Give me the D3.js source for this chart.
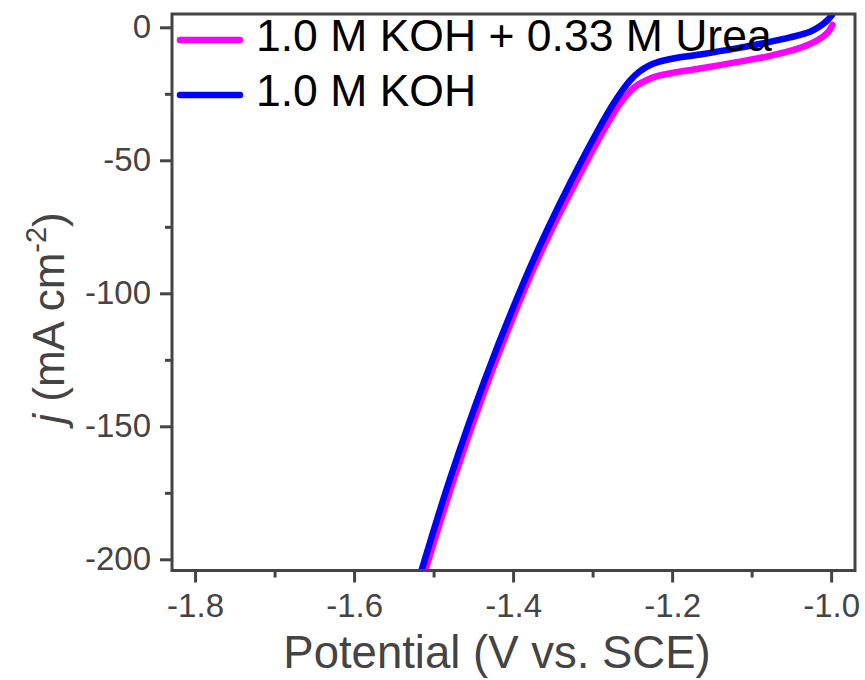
<!DOCTYPE html>
<html>
<head>
<meta charset="utf-8">
<script src="https://cdn.jsdelivr.net/npm/d3@7"></script>
<style>
  html, body { margin: 0; padding: 0; background: #fff; }
  svg { display: block; font-family: "Liberation Sans", Arial, sans-serif; }
</style>
</head>
<body>
<svg id="chart" width="865" height="680"></svg>
<script>
// Linear sweep voltammetry, potential (V vs. SCE) and current density (mA cm^-2)
const seriesNames = ["1.0 M KOH + 0.33 M Urea", "1.0 M KOH"];
const seriesColors = ["#ff00ff", "#0000ff"];

const ureaPotential = [-1.5102, -1.4748, -1.4308, -1.3805, -1.3517, -1.3196, -1.2857, -1.2668, -1.2536, -1.2435,
  -1.2316, -1.2178, -1.2001, -1.1649, -1.1209, -1.0807, -1.0517, -1.0266, -1.0115, -1.0039, -0.9983];
const ureaCurrent = [-204, -170.2, -132.6, -95.0, -76.2, -57.4, -38.6, -29.2, -24.3, -21.7,
  -19.8, -18.3, -17.2, -15.5, -13.2, -11.0, -8.9, -6.3, -3.8, -1.8, 0.9];

const kohPotential = [-1.515, -1.4799, -1.4358, -1.3855, -1.3572, -1.3264, -1.2931, -1.2749, -1.2624, -1.2523,
  -1.2418, -1.2297, -1.2171, -1.202, -1.1649, -1.1209, -1.0807, -1.0517, -1.0266, -1.0115, -1.0039, -0.9989];
const kohCurrent = [-204, -170.2, -132.6, -95.0, -76.2, -57.4, -38.6, -29.2, -23.6, -19.8,
  -16.8, -14.5, -13.0, -11.9, -10.2, -8.0, -5.7, -3.8, -1.65, 0.9, 2.9, 4.6];

const xMajorTicks = [-1.8, -1.6, -1.4, -1.2, -1.0];
const xMinorTicks = [-1.7, -1.5, -1.3, -1.1];
const yMajorTicks = [0, -50, -100, -150, -200];
const yMinorTicks = [-25, -75, -125, -175];

const frame = { left: 172, right: 855, top: 14, bottom: 570.5 };
const axisColor = "#444444";

const svg = d3.select("#chart");

const x = d3.scaleLinear().domain([-1.829, -0.970]).range([frame.left, frame.right]);
const y = d3.scaleLinear().domain([-204.2, 5.0]).range([frame.bottom, frame.top]);

svg.append("defs").append("clipPath").attr("id", "plot-clip")
  .append("rect")
  .attr("x", frame.left).attr("y", frame.top)
  .attr("width", frame.right - frame.left).attr("height", frame.bottom - frame.top);

// curves (urea first, KOH drawn over it)
const series = [
  { name: seriesNames[0], color: seriesColors[0], pts: ureaPotential.map((v, i) => [v, ureaCurrent[i]]) },
  { name: seriesNames[1], color: seriesColors[1], pts: kohPotential.map((v, i) => [v, kohCurrent[i]]) }
];

const line = d3.line()
  .x(d => x(d[0]))
  .y(d => y(d[1]))
  .curve(d3.curveCatmullRom.alpha(0.5));

const curves = svg.append("g").attr("clip-path", "url(#plot-clip)");
series.forEach(s => {
  curves.append("path")
    .datum(s.pts)
    .attr("d", line)
    .attr("fill", "none")
    .attr("stroke", s.color)
    .attr("stroke-width", 6.5)
    .attr("stroke-linecap", "round")
    .attr("stroke-linejoin", "round");
});

// axes
function styleAxis(g) {
  g.select(".domain").remove();
  g.selectAll(".tick line").attr("stroke", axisColor).attr("stroke-width", 3);
  g.selectAll(".tick text")
    .attr("fill", axisColor)
    .attr("font-size", 33)
    .attr("font-family", "'Liberation Sans', Arial, sans-serif");
}

const xAxis = svg.append("g")
  .attr("transform", `translate(0,${frame.bottom})`)
  .call(d3.axisBottom(x).tickValues(xMajorTicks).tickSize(12).tickPadding(11)
    .tickFormat(d => d.toFixed(1)));
styleAxis(xAxis);

svg.append("g")
  .attr("transform", `translate(0,${frame.bottom})`)
  .call(d3.axisBottom(x).tickValues(xMinorTicks).tickSize(7).tickFormat(""))
  .call(styleAxis);

const yAxis = svg.append("g")
  .attr("transform", `translate(${frame.left},0)`)
  .call(d3.axisLeft(y).tickValues(yMajorTicks).tickSize(12).tickPadding(9)
    .tickFormat(d => String(d)));
styleAxis(yAxis);

svg.append("g")
  .attr("transform", `translate(${frame.left},0)`)
  .call(d3.axisLeft(y).tickValues(yMinorTicks).tickSize(7).tickFormat(""))
  .call(styleAxis);

// frame
svg.append("rect")
  .attr("x", frame.left).attr("y", frame.top)
  .attr("width", frame.right - frame.left).attr("height", frame.bottom - frame.top)
  .attr("fill", "none")
  .attr("stroke", axisColor)
  .attr("stroke-width", 3);

// axis titles
svg.append("text")
  .attr("x", 497).attr("y", 668)
  .attr("text-anchor", "middle")
  .attr("font-size", 45.5)
  .attr("fill", axisColor)
  .text("Potential (V vs. SCE)");

const yTitle = svg.append("text")
  .attr("transform", "translate(64,318) rotate(-90)")
  .attr("text-anchor", "middle")
  .attr("font-size", 44)
  .attr("fill", axisColor);
yTitle.append("tspan").attr("font-style", "italic").text("j");
yTitle.append("tspan").text(" (mA cm");
yTitle.append("tspan").attr("font-size", 29).attr("dy", -18).text("-2");
yTitle.append("tspan").attr("dy", 18).text(")");

// legend
const legend = svg.append("g");
const legendRows = [40, 95];
series.forEach((s, i) => {
  legend.append("line")
    .attr("x1", 180).attr("x2", 240)
    .attr("y1", legendRows[i]).attr("y2", legendRows[i])
    .attr("stroke", s.color)
    .attr("stroke-width", 6.5)
    .attr("stroke-linecap", "round");
  legend.append("text")
    .attr("x", 256).attr("y", legendRows[i] + 11)
    .attr("font-size", 44.5)
    .attr("fill", "#000")
    .text(s.name);
});
</script>
</body>
</html>
